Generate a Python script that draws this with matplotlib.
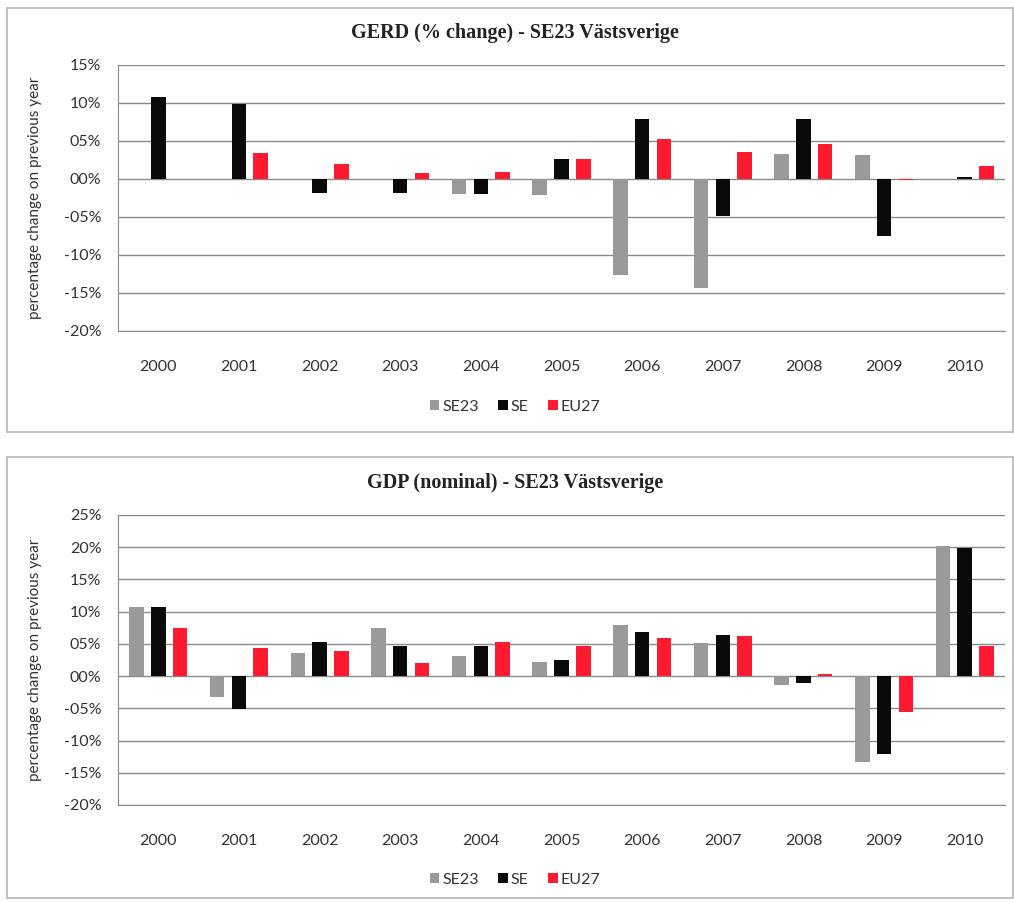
import numpy as np
import matplotlib
matplotlib.use("Agg")
import matplotlib.pyplot as plt
from matplotlib.patches import Rectangle, Patch

years = ["2000", "2001", "2002", "2003", "2004", "2005",
         "2006", "2007", "2008", "2009", "2010"]
series = ["SE23", "SE", "EU27"]

# GERD, % change on previous year
gerd_se23 = [0.0, 0.0, 0.0, 0.0, -2.0, -2.1, -12.6, -14.3, 3.3, 3.2, 0.0]
gerd_se = [10.8, 9.9, -1.8, -1.8, -2.0, 2.6, 7.9, -4.9, 7.9, -7.5, 0.3]
gerd_eu27 = [0.0, 3.4, 2.0, 0.8, 0.9, 2.6, 5.3, 3.6, 4.6, -0.1, 1.7]

# GDP nominal, % change on previous year
gdp_se23 = [10.7, -3.3, 3.6, 7.4, 3.1, 2.2, 7.9, 5.1, -1.4, -13.4, 20.2]
gdp_se = [10.7, -5.1, 5.3, 4.7, 4.7, 2.5, 6.8, 6.4, -1.1, -12.1, 19.9]
gdp_eu27 = [7.4, 4.3, 3.9, 2.0, 5.3, 4.7, 5.9, 6.2, 0.3, -5.6, 4.7]

top_ticks = [15, 10, 5, 0, -5, -10, -15, -20]
bot_ticks = [25, 20, 15, 10, 5, 0, -5, -10, -15, -20]

colors = ["#9a9a9a", "#0a0a0a", "#ff1a30"]
grid_col = "#8a8a8a"
lab_col = "#333333"
sans = ["Lato", "DejaVu Sans"]

fig = plt.figure(figsize=(10.14, 9.02), dpi=100)

# panel frames
for y0, h in [(470 / 902, 424 / 902), (4 / 902, 441 / 902)]:
    fig.patches.append(Rectangle((7 / 1014, y0), 1006 / 1014, h,
                                 transform=fig.transFigure, fill=False,
                                 edgecolor="#b5b5b5", linewidth=1.2))


def panel(rect, data, ticks, title, title_y, leg_y):
    ax = fig.add_axes(rect)
    x = np.arange(len(years))
    w = 0.18
    off = 0.27
    for i, (vals, c) in enumerate(zip(data, colors)):
        ax.bar(x + (i - 1) * off, vals, width=w, color=c, zorder=3)
    ax.set_xlim(-0.5, len(years) - 0.5)
    ax.set_ylim(min(ticks), max(ticks))
    ax.set_yticks(ticks)
    ax.set_yticklabels([("-" if t < 0 else "") + "%02d%%" % abs(t) for t in ticks],
                       fontsize=11.5, color=lab_col, family=sans)
    ax.set_xticks(x)
    ax.set_xticklabels(years, fontsize=11.5, color=lab_col, family=sans)
    ax.tick_params(axis="x", length=0, pad=21)
    ax.tick_params(axis="y", length=0, pad=12)
    ax.yaxis.grid(True, color=grid_col, linewidth=1.0, zorder=0)
    ax.set_axisbelow(True)
    for s in ["top", "right"]:
        ax.spines[s].set_visible(False)
    ax.spines["left"].set_color(grid_col)
    ax.spines["bottom"].set_color(grid_col)
    ax.set_ylabel("percentage change on previous year", fontsize=11,
                  color=lab_col, family=sans)
    ax.yaxis.set_label_coords(-76 / 887, 0.5)
    fig.text(0.508, title_y, title, ha="center", va="center",
             fontsize=14.5, fontweight="bold", family="Liberation Serif",
             color="#222222")
    handles = [Patch(facecolor=c, edgecolor="none") for c in colors]
    fig.legend(handles, series, loc="center", bbox_to_anchor=(0.508, leg_y),
               ncol=3, frameon=False, handlelength=0.6,
               handleheight=0.6, handletextpad=0.2, columnspacing=1.2,
               prop={"family": sans, "size": 11.5}, labelcolor=lab_col)
    return ax


panel([118 / 1014, 1 - 331 / 902, 887 / 1014, 266 / 902],
      [gerd_se23, gerd_se, gerd_eu27], top_ticks,
      "GERD (% change) - SE23 Västsverige", 1 - 33 / 902, 1 - 407 / 902)
panel([118 / 1014, 1 - 805 / 902, 887 / 1014, 290 / 902],
      [gdp_se23, gdp_se, gdp_eu27], bot_ticks,
      "GDP (nominal) - SE23 Västsverige", 1 - 483 / 902, 1 - 880 / 902)

fig.savefig("out.png", dpi=100)
